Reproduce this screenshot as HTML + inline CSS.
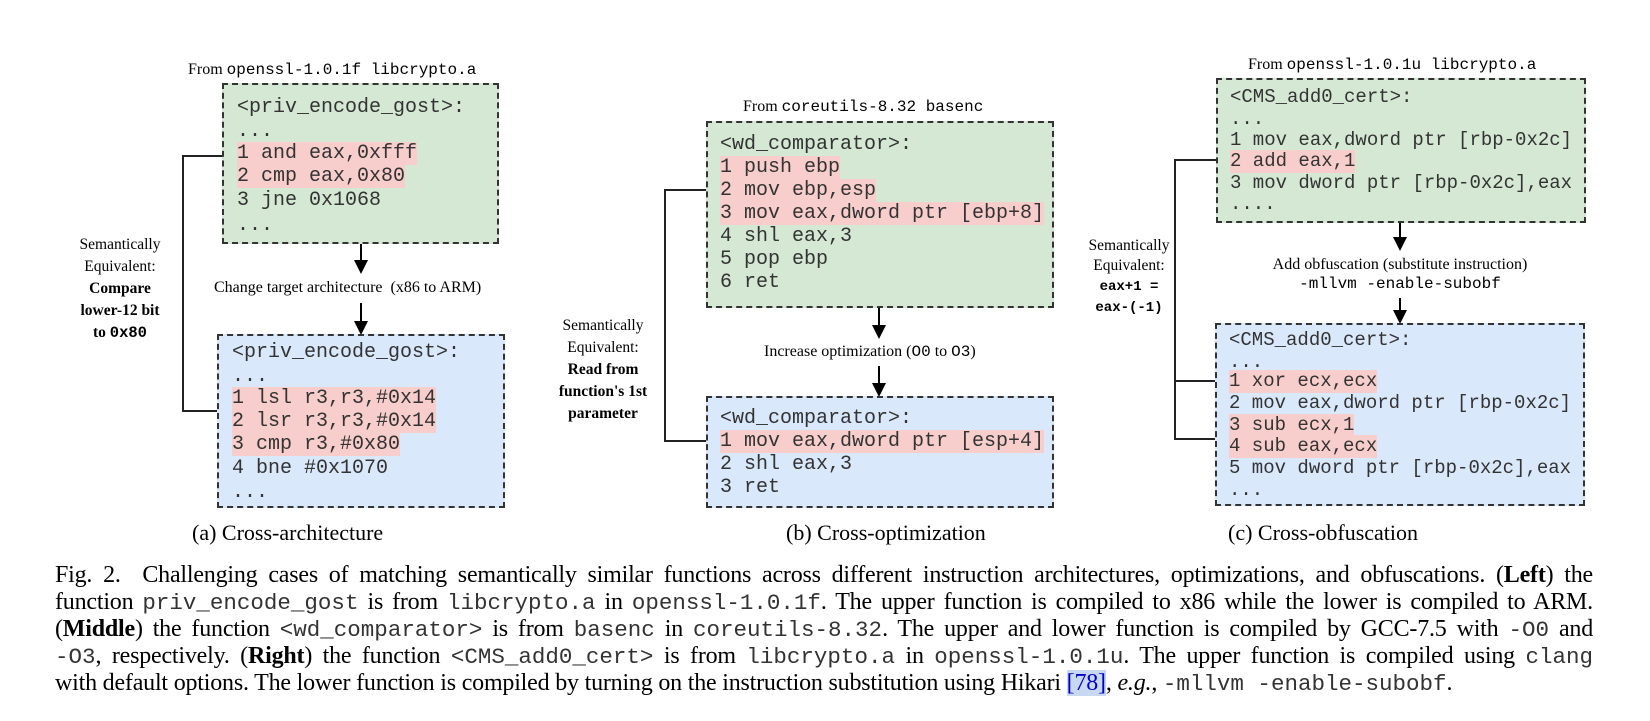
<!DOCTYPE html>
<html><head><meta charset="utf-8">
<style>
body{margin:0;background:#fff;width:1650px;height:721px;position:relative;overflow:hidden;font-family:"Liberation Serif",serif;color:#000}
.a{position:absolute}
.box{position:absolute;border:2px dashed #333;box-sizing:border-box}
.g{background:#d5e8d4}.b{background:#dae8fc}
.m{font-family:"Liberation Mono",monospace}
.ln{position:absolute;white-space:pre;height:23px;line-height:23px;font-family:"Liberation Mono",monospace;color:#333}
.h{background:#f8cecc}
.t{position:absolute;white-space:nowrap;font-size:16px;line-height:18px}
.c{position:absolute;text-align:center;font-size:15.5px;line-height:22px}
.vl{position:absolute;background:#222;width:2px}
.hl{position:absolute;background:#222;height:2px}
.arr{position:absolute;width:2px;background:#000}
.arr:after{content:"";position:absolute;left:-6px;bottom:-2px;border-left:7px solid transparent;border-right:7px solid transparent;border-top:14px solid #000}
.cap{position:absolute;font-size:22px;white-space:nowrap}
.fl{position:absolute;left:55px;width:1538px;font-size:24px;line-height:27px;white-space:nowrap;text-align:justify;text-align-last:justify;letter-spacing:-0.2px}
.fl .m{font-size:22.5px;color:#333;letter-spacing:0}
</style></head><body>

<!-- LEFT -->
<div class="t" style="left:188px;top:61px">From <span class="m">openssl-1.0.1f libcrypto.a</span></div>
<div class="box g" style="left:222px;top:83px;width:277px;height:161px"></div>
<div style="font-size:20px">
<div class="ln" style="left:237px;top:96px">&lt;priv_encode_gost&gt;:</div>
<div class="ln" style="left:237px;top:120px">...</div>
<div class="ln h" style="left:237px;top:142px">1 and eax,0xfff</div>
<div class="ln h" style="left:237px;top:165px">2 cmp eax,0x80</div>
<div class="ln" style="left:237px;top:189px">3 jne 0x1068</div>
<div class="ln" style="left:237px;top:214px">...</div>
</div>
<div class="arr" style="left:360px;top:244px;height:28px"></div>
<div class="t" style="left:214px;top:279px">Change target architecture &nbsp;(x86 to ARM)</div>
<div class="arr" style="left:360px;top:303px;height:30px"></div>
<div class="box b" style="left:217px;top:334px;width:288px;height:174px"></div>
<div style="font-size:20px">
<div class="ln" style="left:232px;top:341px">&lt;priv_encode_gost&gt;:</div>
<div class="ln" style="left:232px;top:365px">...</div>
<div class="ln h" style="left:232px;top:387px">1 lsl r3,r3,#0x14</div>
<div class="ln h" style="left:232px;top:410px">2 lsr r3,r3,#0x14</div>
<div class="ln h" style="left:232px;top:433px">3 cmp r3,#0x80</div>
<div class="ln" style="left:232px;top:457px">4 bne #0x1070</div>
<div class="ln" style="left:232px;top:481px">...</div>
</div>
<div class="vl" style="left:182px;top:155px;height:257px"></div>
<div class="hl" style="left:182px;top:155px;width:40px"></div>
<div class="hl" style="left:182px;top:410px;width:35px"></div>
<div class="c" style="left:60px;top:234px;width:120px">Semantically<br>Equivalent:<br><b>Compare<br>lower-12 bit<br>to <span class="m">0x80</span></b></div>
<div class="cap" style="left:192px;top:520px">(a) Cross-architecture</div>

<!-- MIDDLE -->
<div class="t" style="left:743px;top:98px">From <span class="m">coreutils-8.32 basenc</span></div>
<div class="box g" style="left:706px;top:121px;width:348px;height:187px"></div>
<div style="font-size:20px">
<div class="ln" style="left:720px;top:133px">&lt;wd_comparator&gt;:</div>
<div class="ln h" style="left:720px;top:156px">1 push ebp</div>
<div class="ln h" style="left:720px;top:179px">2 mov ebp,esp</div>
<div class="ln h" style="left:720px;top:202px">3 mov eax,dword ptr [ebp+8]</div>
<div class="ln" style="left:720px;top:225px">4 shl eax,3</div>
<div class="ln" style="left:720px;top:248px">5 pop ebp</div>
<div class="ln" style="left:720px;top:271px">6 ret</div>
</div>
<div class="arr" style="left:878px;top:308px;height:29px"></div>
<div class="t" style="left:764px;top:343px">Increase optimization (<span class="m">O0</span> to <span class="m">O3</span>)</div>
<div class="arr" style="left:878px;top:366px;height:29px"></div>
<div class="box b" style="left:706px;top:396px;width:348px;height:112px"></div>
<div style="font-size:20px">
<div class="ln" style="left:720px;top:407px">&lt;wd_comparator&gt;:</div>
<div class="ln h" style="left:720px;top:430px">1 mov eax,dword ptr [esp+4]</div>
<div class="ln" style="left:720px;top:453px">2 shl eax,3</div>
<div class="ln" style="left:720px;top:476px">3 ret</div>
</div>
<div class="vl" style="left:664px;top:189px;height:253px"></div>
<div class="hl" style="left:664px;top:189px;width:42px"></div>
<div class="hl" style="left:664px;top:440px;width:42px"></div>
<div class="c" style="left:543px;top:315px;width:120px">Semantically<br>Equivalent:<br><b>Read from<br>function's 1st<br>parameter</b></div>
<div class="cap" style="left:786px;top:520px">(b) Cross-optimization</div>

<!-- RIGHT -->
<div class="t" style="left:1248px;top:56px">From <span class="m">openssl-1.0.1u libcrypto.a</span></div>
<div class="box g" style="left:1216px;top:78px;width:370px;height:145px"></div>
<div style="font-size:19px">
<div class="ln" style="left:1230px;top:86px">&lt;CMS_add0_cert&gt;:</div>
<div class="ln" style="left:1230px;top:108px">...</div>
<div class="ln" style="left:1230px;top:129px">1 mov eax,dword ptr [rbp-0x2c]</div>
<div class="ln h" style="left:1230px;top:150px">2 add eax,1</div>
<div class="ln" style="left:1230px;top:172px">3 mov dword ptr [rbp-0x2c],eax</div>
<div class="ln" style="left:1230px;top:193px">....</div>
</div>
<div class="arr" style="left:1399px;top:223px;height:26px"></div>
<div class="c" style="left:1250px;top:255px;width:300px;font-size:16px;line-height:19px">Add obfuscation (substitute instruction)<br><span class="m">-mllvm -enable-subobf</span></div>
<div class="arr" style="left:1399px;top:298px;height:24px"></div>
<div class="box b" style="left:1215px;top:323px;width:370px;height:183px"></div>
<div style="font-size:19px">
<div class="ln" style="left:1229px;top:329px">&lt;CMS_add0_cert&gt;:</div>
<div class="ln" style="left:1229px;top:351px">...</div>
<div class="ln h" style="left:1229px;top:370px">1 xor ecx,ecx</div>
<div class="ln" style="left:1229px;top:392px">2 mov eax,dword ptr [rbp-0x2c]</div>
<div class="ln h" style="left:1229px;top:414px">3 sub ecx,1</div>
<div class="ln h" style="left:1229px;top:435px">4 sub eax,ecx</div>
<div class="ln" style="left:1229px;top:457px">5 mov dword ptr [rbp-0x2c],eax</div>
<div class="ln" style="left:1229px;top:479px">...</div>
</div>
<div class="vl" style="left:1174px;top:159px;height:281px"></div>
<div class="hl" style="left:1174px;top:159px;width:42px"></div>
<div class="hl" style="left:1174px;top:380px;width:41px"></div>
<div class="hl" style="left:1174px;top:438px;width:41px"></div>
<div class="c" style="left:1070px;top:236px;width:118px;line-height:20px">Semantically<br>Equivalent:<br><b class="m" style="font-size:14px">eax+1 =<br>eax-(-1)</b></div>
<div class="cap" style="left:1228px;top:520px">(c) Cross-obfuscation</div>

<div class="fl" style="top:562px">Fig. 2.&nbsp; Challenging cases of matching semantically similar functions across different instruction architectures, optimizations, and obfuscations. (<b>Left</b>) the</div>
<div class="fl" style="top:589px">function <span class="m">priv_encode_gost</span> is from <span class="m">libcrypto.a</span> in <span class="m">openssl-1.0.1f</span>. The upper function is compiled to x86 while the lower is compiled to ARM.</div>
<div class="fl" style="top:616px">(<b>Middle</b>) the function <span class="m">&lt;wd_comparator&gt;</span> is from <span class="m">basenc</span> in <span class="m">coreutils-8.32</span>. The upper and lower function is compiled by GCC-7.5 with <span class="m">-O0</span> and</div>
<div class="fl" style="top:643px"><span class="m">-O3</span>, respectively. (<b>Right</b>) the function <span class="m">&lt;CMS_add0_cert&gt;</span> is from <span class="m">libcrypto.a</span> in <span class="m">openssl-1.0.1u</span>. The upper function is compiled using <span class="m">clang</span></div>
<div class="fl" style="top:670px;text-align:left;text-align-last:left">with default options. The lower function is compiled by turning on the instruction substitution using Hikari <span style="color:#00c;background:#c8d8f0">[78]</span>, <i>e.g.</i>, <span class="m">-mllvm -enable-subobf</span>.</div>
</body></html>
